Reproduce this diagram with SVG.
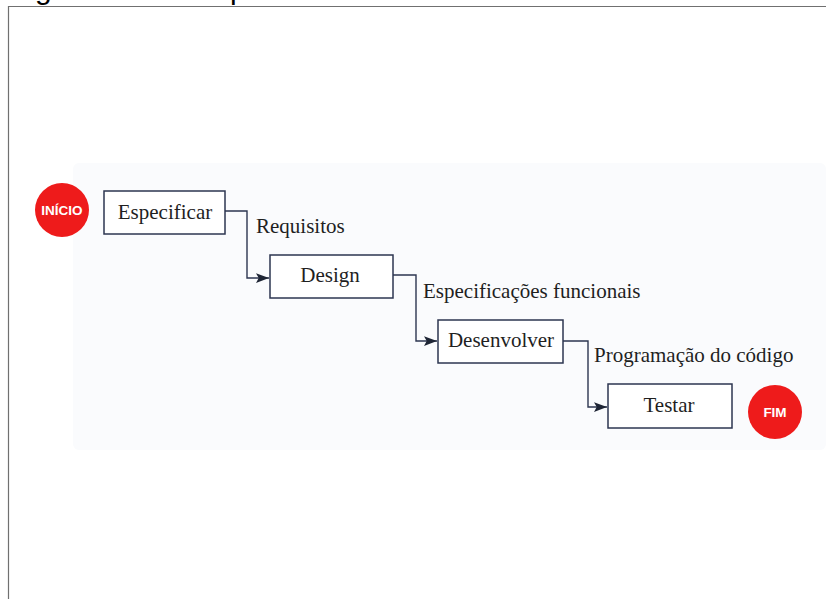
<svg xmlns="http://www.w3.org/2000/svg" width="826" height="599" viewBox="0 0 826 599">
<defs>
<marker id="arr" viewBox="0 0 12 10" refX="12" refY="5" markerWidth="13" markerHeight="11" markerUnits="userSpaceOnUse" orient="auto">
<path d="M0,0.5 L12,5 L0,9.5 L2.5,5 Z" fill="#1e2535"/>
</marker>
<style>
.box{fill:#ffffff;stroke:#2d3650;stroke-width:1.5}
.lbl{font-family:"Liberation Serif","Times New Roman",serif;font-size:21px;fill:#1f1f1f}
.term{fill:#ee1b1b}
.tt{font-family:"Liberation Sans",Arial,sans-serif;font-weight:bold;font-size:13.5px;fill:#ffffff}
.con{fill:none;stroke:#2d3650;stroke-width:1.4}
</style>
</defs>
<rect x="0" y="0" width="826" height="599" fill="#ffffff"/>
<text x="10" y="-1" font-family="Liberation Sans,Arial,sans-serif" font-size="30" fill="#000">Figura 2 – Exemplo do Método Cascata</text>
<path d="M8.5,599 L8.5,6.5 L826,6.5" fill="none" stroke="#707070" stroke-width="1.2"/>
<rect x="73" y="163" width="753" height="287" rx="6" fill="#fafbfd"/>
<g id="connectors">
<path class="con" d="M225,211 H247 V278 H269" marker-end="url(#arr)"/>
<path class="con" d="M393,275 H416 V341 H437" marker-end="url(#arr)"/>
<path class="con" d="M563,341 H588 V407 H607" marker-end="url(#arr)"/>
</g>
<g id="inicio">
<circle class="term" cx="62" cy="210" r="27"/>
<text class="tt" x="62" y="215" text-anchor="middle">INÍCIO</text>
</g>
<g id="especificar">
<rect class="box" x="104" y="191" width="121" height="43"/>
<text class="lbl" x="165" y="219" text-anchor="middle">Especificar</text>
</g>
<text class="lbl" x="256" y="233">Requisitos</text>
<g id="design">
<rect class="box" x="270" y="255" width="123" height="43"/>
<text class="lbl" x="330" y="282" text-anchor="middle">Design</text>
</g>
<text class="lbl" x="423" y="298">Especificações funcionais</text>
<g id="desenvolver">
<rect class="box" x="438" y="320" width="125" height="43"/>
<text class="lbl" x="501" y="347" text-anchor="middle">Desenvolver</text>
</g>
<text class="lbl" x="594" y="362">Programação do código</text>
<g id="testar">
<rect class="box" x="608" y="384" width="124" height="44"/>
<text class="lbl" x="669" y="412" text-anchor="middle">Testar</text>
</g>
<g id="fim">
<circle class="term" cx="775" cy="412" r="27"/>
<text class="tt" x="775" y="417" text-anchor="middle">FIM</text>
</g>
</svg>
